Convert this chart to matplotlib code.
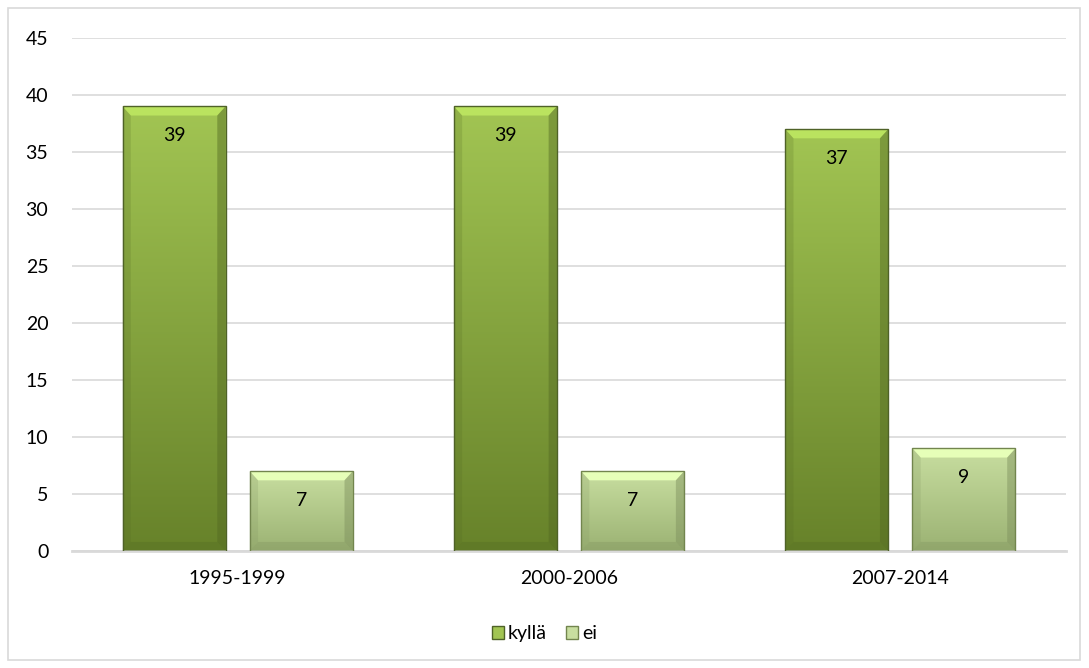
import numpy as np
import matplotlib
matplotlib.use("Agg")
import matplotlib.pyplot as plt
from matplotlib.patches import Polygon, Rectangle, Patch

#%% data
categories = ["1995-1999", "2000-2006", "2007-2014"]
kylla = [39, 39, 37]
ei = [7, 7, 9]
series_names = ["kyllä", "ei"]

plt.rcParams['font.family'] = ['Lato', 'DejaVu Sans']
FS = 14

fig = plt.figure(figsize=(10.89, 6.68), dpi=100)
ax = fig.add_axes([0.0661, 0.1751, 0.9128, 0.768])

# outer chart border
fig.patches.append(Rectangle((8 / 1089, 8 / 668), 1072 / 1089, 652 / 668,
                             transform=fig.transFigure, fill=False,
                             edgecolor="#d9d9d9", lw=1.2))

x = np.arange(len(categories))
w = 0.311
off = 0.192

# colours: top, bottom, edge
col_k = ("#a2c553", "#67822a", "#4f6228")
col_e = ("#c8dea0", "#9bb273", "#72854e")


def hex2rgb(h):
    return np.array([int(h[i:i + 2], 16) / 255 for i in (1, 3, 5)])


def grad_bar(xc, h, cols):
    top, bot, edge = cols
    x0, x1 = xc - w / 2, xc + w / 2
    t = np.linspace(0, 1, 200)[:, None]
    img = hex2rgb(top)[None, :] * (1 - t) + hex2rgb(bot)[None, :] * t
    img = img[:, None, :]
    ax.imshow(img, extent=[x0, x1, 0, h], origin="upper", aspect="auto",
              zorder=2, interpolation="bilinear")
    # bevel: light top, darker sides and bottom
    dx, dy = 0.025, 0.8
    top_rgb = np.clip(hex2rgb(top) * 1.15, 0, 1)
    ax.add_patch(Polygon([(x0, h), (x1, h), (x1 - dx, h - dy), (x0 + dx, h - dy)],
                         closed=True, facecolor=top_rgb, edgecolor="none", zorder=3))
    side = hex2rgb(bot) * 0.8
    ax.add_patch(Polygon([(x1, h), (x1, 0), (x1 - dx, dy), (x1 - dx, h - dy)],
                         closed=True, facecolor=side, alpha=0.45, edgecolor="none", zorder=3))
    ax.add_patch(Polygon([(x0, h), (x0, 0), (x0 + dx, dy), (x0 + dx, h - dy)],
                         closed=True, facecolor=side, alpha=0.2, edgecolor="none", zorder=3))
    ax.add_patch(Polygon([(x0, 0), (x1, 0), (x1 - dx, dy), (x0 + dx, dy)],
                         closed=True, facecolor=side, alpha=0.3, edgecolor="none", zorder=3))
    ax.add_patch(Rectangle((x0, 0), w, h, fill=False, edgecolor=edge, lw=1.0, zorder=4))


for i in range(len(categories)):
    grad_bar(x[i] - off, kylla[i], col_k)
    grad_bar(x[i] + off, ei[i], col_e)
    ax.annotate(str(kylla[i]), (x[i] - off, kylla[i]), xytext=(0, -21),
                textcoords="offset points", ha="center", va="center",
                fontsize=FS, color="black", zorder=5)
    ax.annotate(str(ei[i]), (x[i] + off, ei[i]), xytext=(0, -21),
                textcoords="offset points", ha="center", va="center",
                fontsize=FS, color="black", zorder=5)

ax.set_xlim(-0.5, len(categories) - 0.5)
ax.set_ylim(0, 45)
ax.set_yticks(np.arange(0, 46, 5))
ax.set_xticks(x)
ax.set_xticklabels(categories)
ax.yaxis.grid(True, color="#d9d9d9", lw=1.2, zorder=0)
ax.set_axisbelow(True)
for s in ["top", "right", "left"]:
    ax.spines[s].set_visible(False)
ax.spines["bottom"].set_color("#d9d9d9")
ax.spines["bottom"].set_linewidth(2)
ax.tick_params(axis="both", length=0, labelsize=FS, colors="black")
ax.tick_params(axis="y", pad=17)
ax.tick_params(axis="x", pad=14)

handles = [Patch(facecolor=col_k[0], edgecolor=col_k[2]),
           Patch(facecolor=col_e[0], edgecolor=col_e[2])]
fig.legend(handles, series_names, loc="center", bbox_to_anchor=(0.5, 0.051),
           ncol=2, frameon=False, fontsize=FS, handlelength=0.6,
           handleheight=0.6, handletextpad=0.2, columnspacing=1.0)

fig.savefig("out.png", dpi=100)
